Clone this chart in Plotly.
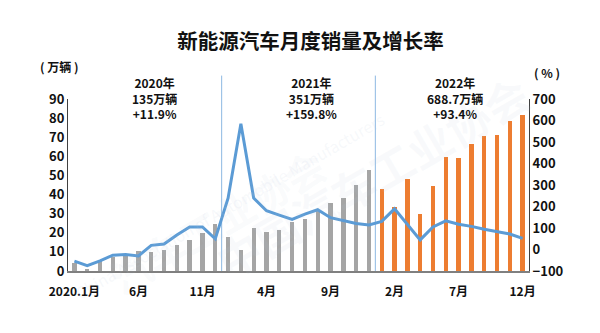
import plotly.graph_objects as go

months = [f"{y}.{m}" for y in (2020, 2021, 2022) for m in range(1, 13)]
tick_labels = ["2020.1月", "6月", "11月", "4月", "9月", "2月", "7月", "12月"]
tick_months = ["2020.1", "2020.6", "2020.11", "2021.4", "2021.9", "2022.2", "2022.7", "2022.12"]

sales = [4.4, 1.3, 5.3, 7.2, 8.2, 10.4, 9.8, 10.9, 13.8, 16.0, 20.0, 24.8,
         17.9, 11.0, 22.6, 20.6, 21.7, 25.6, 27.1, 32.1, 35.7, 38.3, 45.0, 53.1,
         43.1, 33.4, 48.4, 29.9, 44.7, 59.6, 59.3, 66.6, 70.8, 71.4, 78.6, 81.4]
growth = [-54.4, -75.2, -53.2, -26.5, -23.5, -30.0, 19.3, 25.8, 67.7, 104.5, 104.9, 49.5,
          238.5, 585.3, 239.8, 180.3, 160.0, 140.2, 164.3, 185.0, 148.1, 134.9, 121.1, 114.4,
          130.8, 189.1, 115.3, 44.6, 105.2, 133.5, 117.3, 107.6, 93.9, 81.7, 72.3, 51.8]
year_notes = ["2020年<br>135万辆<br>+11.9%",
              "2021年<br>351万辆<br>+159.8%",
              "2022年<br>688.7万辆<br>+93.4%"]

GRAY = "#A5A5A5"
ORANGE = "#ED7D31"
BLUE = "#5B9BD5"
FONT = "Noto Sans CJK SC, Noto Sans, sans-serif"
TXT = "#111111"

x = list(range(len(months)))
bar_colors = [ORANGE if m.startswith("2022") else GRAY for m in months]

fig = go.Figure()
fig.add_trace(go.Bar(x=x, y=sales, marker=dict(color=bar_colors, line=dict(width=0)),
                     width=0.34, yaxis="y", showlegend=False))
fig.add_trace(go.Scatter(x=x, y=growth, mode="lines", line=dict(color=BLUE, width=3),
                         yaxis="y2", showlegend=False))

# faint watermark
fig.add_annotation(text="中国汽车工业协会", xref="paper", yref="paper", x=0.66, y=0.55,
                   showarrow=False, textangle=-30,
                   font=dict(size=44, color="rgba(185,200,220,0.09)", family=FONT, weight="bold"))
fig.add_annotation(text="China Association of Automobile Manufacturers", xref="paper", yref="paper",
                   x=0.70, y=0.38, showarrow=False, textangle=-30,
                   font=dict(size=16, color="rgba(185,200,220,0.12)", family=FONT))
fig.add_annotation(text="汽车工业协会", xref="paper", yref="paper", x=0.06, y=0.8,
                   showarrow=False, textangle=-30,
                   font=dict(size=40, color="rgba(185,200,220,0.08)", family=FONT, weight="bold"))

# year separators
for xb in (11.5, 23.5):
    fig.add_shape(type="line", xref="x", yref="paper", x0=xb, x1=xb, y0=0, y1=1.136,
                  line=dict(color="#8DB8E2", width=1), layer="below")

for xn, txt in zip((0.188, 0.528, 0.839), year_notes):
    fig.add_annotation(text=txt, xref="paper", yref="paper", x=xn, y=1.007, showarrow=False,
                       xanchor="center", yanchor="middle", align="center",
                       font=dict(size=12, color=TXT, family=FONT, weight="bold"))

fig.add_annotation(text="( 万辆 )", xref="paper", yref="paper", x=-0.018, y=1.188, showarrow=False,
                   xanchor="center", yanchor="middle",
                   font=dict(size=12, color=TXT, family=FONT, weight="bold"))
fig.add_annotation(text="( % )", xref="paper", yref="paper", x=1.038, y=1.153, showarrow=False,
                   xanchor="center", yanchor="middle",
                   font=dict(size=12, color=TXT, family=FONT, weight="bold"))

tickvals = [months.index(m) for m in tick_months]

fig.update_layout(
    width=600, height=333,
    margin=dict(l=68, r=71, t=99, b=62),
    paper_bgcolor="white", plot_bgcolor="white",
    title=dict(text="新能源汽车月度销量及增长率", x=0.5175, xanchor="center", y=0.875, yanchor="middle",
               font=dict(size=20.5, color=TXT, family=FONT, weight="bold")),
    bargap=0,
    xaxis=dict(range=[-0.5, 35.5], tickmode="array", tickvals=tickvals, ticktext=tick_labels,
               showgrid=False, zeroline=False, showline=True, linecolor="#808080", linewidth=1.5,
               ticks="", ticklabelstandoff=9,
               tickfont=dict(size=12, color=TXT, family=FONT, weight="bold")),
    yaxis=dict(range=[0, 90], dtick=10, showgrid=False, zeroline=False, showline=True,
               linecolor="#404040", linewidth=1, ticks="",
               tickfont=dict(size=13, color=TXT, family=FONT, weight="bold")),
    yaxis2=dict(range=[-100, 700], dtick=100, overlaying="y", side="right", showgrid=False,
                zeroline=False, showline=True, linecolor="#404040", linewidth=1, ticks="",
                tickfont=dict(size=13, color=TXT, family=FONT, weight="bold")),
)

fig.write_html("out.html")
